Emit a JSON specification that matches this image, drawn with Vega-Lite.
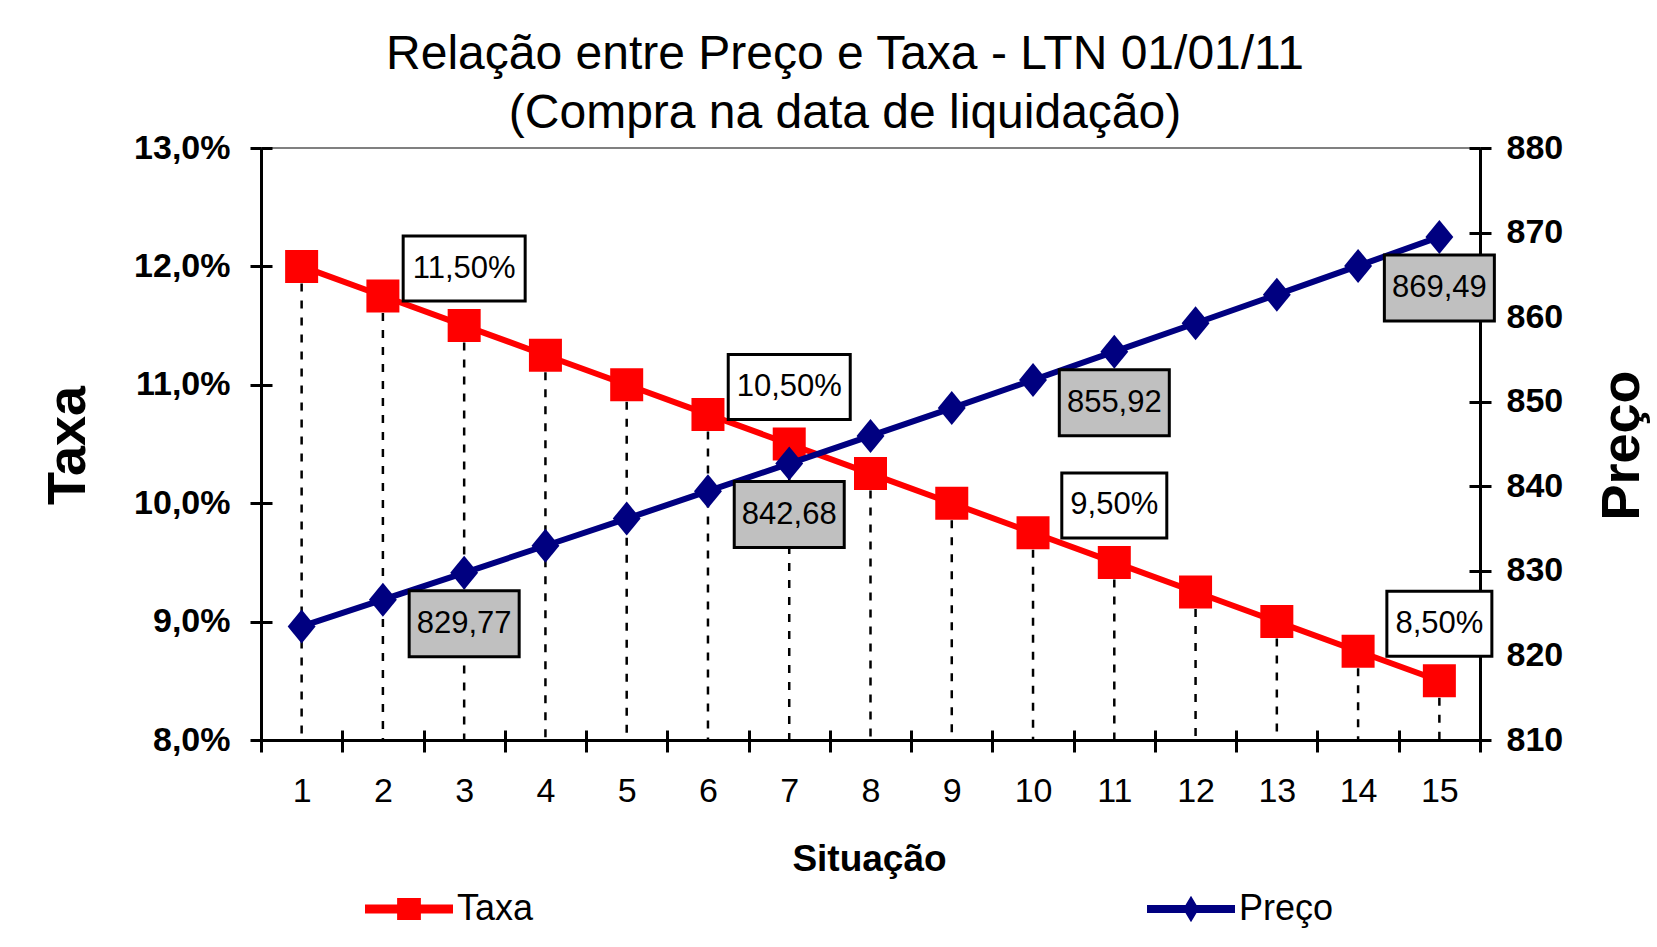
{
  "$schema": "https://vega.github.io/schema/vega-lite/v6.json",
  "width": 1219,
  "height": 592,
  "autosize": "none",
  "padding": {"left": 261, "top": 148, "right": 177, "bottom": 207},
  "background": "white",
  "title": {
    "text": ["Relação entre Preço e Taxa - LTN 01/01/11", "(Compra na data de liquidação)"],
    "font": "Liberation Sans",
    "fontSize": 48,
    "fontWeight": "normal",
    "lineHeight": 59,
    "color": "black",
    "anchor": "middle",
    "frame": "bounds",
    "offset": -7
  },
  "config": {
    "view": {"stroke": "#808080", "strokeWidth": 2},
    "axis": {
      "labelFont": "Liberation Sans",
      "titleFont": "Liberation Sans",
      "labelColor": "black",
      "titleColor": "black",
      "domainColor": "black",
      "domainWidth": 3,
      "tickColor": "black",
      "tickWidth": 3,
      "grid": false
    }
  },
  "data": {
    "values": [
      {"s": 1, "taxa": 12.00, "preco": 823.43},
      {"s": 2, "taxa": 11.75, "preco": 826.59},
      {"s": 3, "taxa": 11.50, "preco": 829.77},
      {"s": 4, "taxa": 11.25, "preco": 832.97},
      {"s": 5, "taxa": 11.00, "preco": 836.18},
      {"s": 6, "taxa": 10.75, "preco": 839.42},
      {"s": 7, "taxa": 10.50, "preco": 842.68},
      {"s": 8, "taxa": 10.25, "preco": 845.96},
      {"s": 9, "taxa": 10.00, "preco": 849.25},
      {"s": 10, "taxa": 9.75, "preco": 852.57},
      {"s": 11, "taxa": 9.50, "preco": 855.92},
      {"s": 12, "taxa": 9.25, "preco": 859.28},
      {"s": 13, "taxa": 9.00, "preco": 862.66},
      {"s": 14, "taxa": 8.75, "preco": 866.06},
      {"s": 15, "taxa": 8.50, "preco": 869.49}
    ]
  },
  "layer": [
    {
      "mark": {"type": "rule", "stroke": "black", "strokeWidth": 2.5, "strokeDash": [8, 9]},
      "encoding": {
        "x": {
          "field": "s", "type": "ordinal",
          "scale": {"type": "band", "paddingInner": 0, "paddingOuter": 0},
          "axis": {"orient": "bottom", "labels": false, "domain": false, "title": null, "tickSize": -10, "tickBand": "extent"}
        },
        "y": {
          "field": "taxa", "type": "quantitative",
          "scale": {"domain": [8, 13], "nice": false, "zero": false},
          "axis": {"orient": "left", "labels": false, "domain": false, "title": null, "tickSize": -11, "values": [8, 9, 10, 11, 12, 13]}
        },
        "y2": {"datum": 8}
      }
    },
    {
      "encoding": {
        "x": {
          "field": "s", "type": "ordinal",
          "scale": {"type": "band", "paddingInner": 0, "paddingOuter": 0},
          "axis": {
            "orient": "bottom", "title": "Situação", "titleFontSize": 37, "titleFontWeight": "bold",
            "titleX": 608, "titleY": 130, "titleBaseline": "alphabetic", "titleAlign": "center",
            "labelAngle": 0, "labelFontSize": 34, "labelFontWeight": "normal", "labelPadding": 22,
            "tickSize": 12, "tickBand": "extent"
          }
        },
        "y": {
          "field": "taxa", "type": "quantitative",
          "scale": {"domain": [8, 13], "nice": false, "zero": false},
          "axis": {
            "orient": "left", "values": [8, 9, 10, 11, 12, 13],
            "labelExpr": "replace(format(datum.value, '.1f'), '.', ',') + '%'",
            "labelFontSize": 34, "labelFontWeight": "bold", "labelPadding": 20, "tickSize": 11,
            "title": "Taxa", "titleFontSize": 54, "titleFontWeight": "bold", "titleAngle": 270,
            "titleX": -177, "titleY": 297, "titleBaseline": "alphabetic", "titleAlign": "center"
          }
        }
      },
      "layer": [
        {
          "mark": {"type": "line", "strokeWidth": 6},
          "encoding": {
            "color": {
              "datum": "Taxa",
              "scale": {"domain": ["Taxa", "Preço"], "range": ["#FF0000", "#000080"]},
              "legend": {
                "orient": "none", "legendX": 104, "legendY": 717, "direction": "horizontal", "columns": 2,
                "columnPadding": 613, "title": null, "padding": 0,
                "labelFont": "Liberation Sans", "labelFontSize": 36, "labelColor": "black", "labelOffset": 4,
                "symbolSize": 7744, "symbolStrokeWidth": 0,
                "encode": {
                  "symbols": {
                    "update": {
                      "shape": {"signal": "datum.value === 'Taxa' ? 'M-1,-0.1L1,-0.1L1,0.1L-1,0.1Z M-0.27,-0.25L0.27,-0.25L0.27,0.25L-0.27,0.25Z' : 'M-1,-0.09L1,-0.09L1,0.09L-1,0.09Z M0,-0.3L0.18,0L0,0.3L-0.18,0Z'"},
                      "fill": {"signal": "datum.value === 'Taxa' ? '#FF0000' : '#000080'"},
                      "stroke": {"value": "transparent"},
                      "opacity": {"value": 1},
                      "fillOpacity": {"value": 1}
                    }
                  }
                }
              }
            }
          }
        },
        {
          "mark": {"type": "point", "shape": "square", "size": 1089, "filled": true, "opacity": 1},
          "encoding": {"color": {"datum": "Taxa"}}
        },
        {
          "transform": [{"filter": "datum.s % 4 == 3"}],
          "mark": {"type": "point", "size": 400, "filled": true, "fill": "white", "stroke": "black", "strokeWidth": 3, "opacity": 1, "yOffset": -57},
          "encoding": {
            "shape": {
              "condition": {"test": "datum.taxa >= 10", "value": "M-6.1,-3.25L6.1,-3.25L6.1,3.25L-6.1,3.25Z"},
              "value": "M-5.25,-3.25L5.25,-3.25L5.25,3.25L-5.25,3.25Z"
            }
          }
        },
        {
          "transform": [
            {"filter": "datum.s % 4 == 3"},
            {"calculate": "replace(format(datum.taxa, '.2f'), '.', ',') + '%'", "as": "rotulo"}
          ],
          "mark": {"type": "text", "font": "Liberation Sans", "fontSize": 31, "color": "black", "align": "center", "baseline": "middle", "dy": -57},
          "encoding": {"text": {"field": "rotulo"}}
        }
      ]
    },
    {
      "encoding": {
        "x": {
          "field": "s", "type": "ordinal",
          "scale": {"type": "band", "paddingInner": 0, "paddingOuter": 0},
          "axis": null
        },
        "y": {
          "field": "preco", "type": "quantitative",
          "scale": {"domain": [810, 880], "nice": false, "zero": false},
          "axis": {
            "orient": "right", "values": [810, 820, 830, 840, 850, 860, 870, 880], "format": "d",
            "labelFontSize": 34, "labelFontWeight": "bold", "labelPadding": 15, "tickSize": 11,
            "title": "Preço", "titleFontSize": 54, "titleFontWeight": "bold", "titleAngle": 270,
            "titleX": 158, "titleY": 297, "titleBaseline": "alphabetic", "titleAlign": "center"
          }
        }
      },
      "layer": [
        {
          "mark": {"type": "line", "strokeWidth": 6},
          "encoding": {"color": {"datum": "Preço"}}
        },
        {
          "mark": {"type": "point", "shape": "M0,-1L0.82,0L0,1L-0.82,0Z", "size": 1156, "filled": true, "opacity": 1},
          "encoding": {"color": {"datum": "Preço"}}
        }
      ]
    },
    {
      "transform": [
        {"filter": "datum.s % 4 == 3"},
        {"calculate": "replace(format(datum.preco, '.2f'), '.', ',')", "as": "rotulo"}
      ],
      "encoding": {
        "x": {
          "field": "s", "type": "ordinal",
          "scale": {"type": "band", "paddingInner": 0, "paddingOuter": 0},
          "axis": null
        },
        "y": {
          "field": "preco", "type": "quantitative",
          "scale": {"domain": [810, 880], "nice": false, "zero": false},
          "axis": {"orient": "right", "labels": false, "domain": false, "title": null, "tickSize": -11, "values": [810, 820, 830, 840, 850, 860, 870, 880]}
        }
      },
      "layer": [
        {
          "mark": {"type": "point", "shape": "M-5.5,-3.3L5.5,-3.3L5.5,3.3L-5.5,3.3Z", "size": 400, "filled": true, "fill": "#C0C0C0", "stroke": "black", "strokeWidth": 3, "opacity": 1, "yOffset": 51}
        },
        {
          "mark": {"type": "text", "font": "Liberation Sans", "fontSize": 31, "color": "black", "align": "center", "baseline": "middle", "dy": 51},
          "encoding": {"text": {"field": "rotulo"}}
        }
      ]
    }
  ],
  "resolve": {"scale": {"y": "independent"}, "axis": {"x": "independent", "y": "independent"}}
}
